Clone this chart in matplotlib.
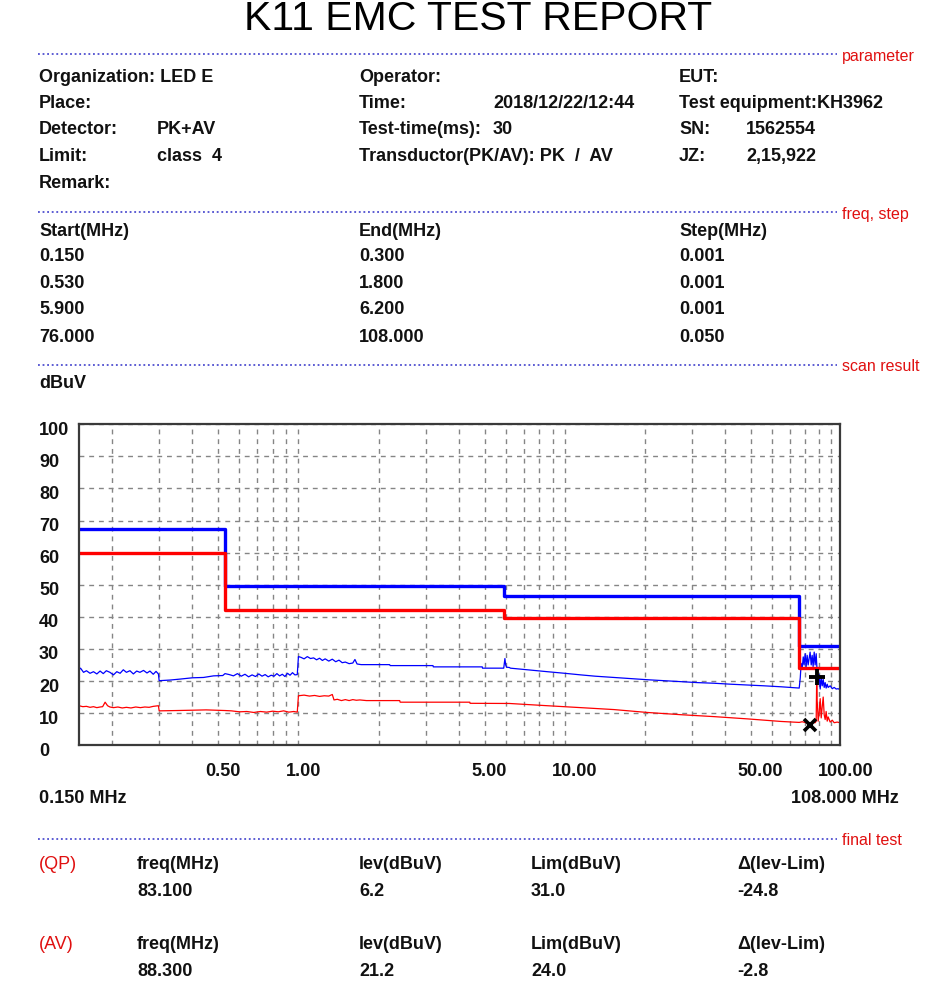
import matplotlib
matplotlib.use("Agg")
import matplotlib.pyplot as plt
from matplotlib.lines import Line2D
from matplotlib.transforms import ScaledTranslation, blended_transform_factory

plt.rcParams['font.family'] = ['Liberation Sans', 'DejaVu Sans']

W, H, DPI = 950, 995, 100

# ---------------- data ----------------
title = "K11 EMC TEST REPORT"

param_rows = [
    [("Organization: LED E", 39), ("Operator:", 359), ("EUT:", 679)],
    [("Place:", 39), ("Time:", 359), ("2018/12/22/12:44", 493), ("Test equipment:KH3962", 679)],
    [("Detector:", 39), ("PK+AV", 157), ("Test-time(ms):", 359), ("30", 493), ("SN:", 679), ("1562554", 746)],
    [("Limit:", 39), ("class  4", 157), ("Transductor(PK/AV): PK  /  AV", 359), ("JZ:", 679), ("2,15,922", 746)],
    [("Remark:", 39)],
]

band_start = ["0.150", "0.530", "5.900", "76.000"]
band_end = ["0.300", "1.800", "6.200", "108.000"]
band_step = ["0.001", "0.001", "0.001", "0.050"]

# limit lines (MHz edges, dBuV)
limit_edges = [0.15, 0.53, 5.9, 76.0, 108.0]
pk_limit = [67.5, 49.5, 46.5, 31.0]
av_limit = [60.0, 42.0, 39.5, 24.0]

# peak trace (blue)
pk_freq = [0.150, 0.152, 0.156, 0.160, 0.165, 0.170, 0.175, 0.180, 0.185, 0.190,
           0.196, 0.202, 0.208, 0.214, 0.220, 0.226, 0.233, 0.240, 0.247, 0.254,
           0.262, 0.270, 0.277, 0.285, 0.292, 0.298,
           0.300, 0.330, 0.360, 0.400, 0.440, 0.480, 0.520, 0.530,
           0.55, 0.57, 0.59, 0.61, 0.63, 0.65, 0.67, 0.69, 0.71, 0.73, 0.75, 0.77,
           0.79, 0.81, 0.83, 0.85, 0.87, 0.89, 0.91, 0.93, 0.95, 0.97, 0.99,
           1.00, 1.02, 1.05, 1.08, 1.11, 1.14, 1.17, 1.20, 1.23, 1.26, 1.30, 1.34,
           1.38, 1.42, 1.46, 1.50, 1.55, 1.60, 1.63, 1.66, 1.72, 1.80,
           2.20, 2.21, 3.20, 3.21, 4.90, 4.91, 5.90, 5.96, 6.00, 6.05, 6.20,
           6.25, 7.0, 8.6, 10.0, 11.5, 13.0, 15.3, 17.5, 20.4, 23.5, 27.3, 31.5,
           36.4, 42.0, 48.5, 56.0, 64.8, 70.0, 75.9,
           76.6, 77.2, 77.9, 78.6, 79.2, 79.9, 80.6, 81.3, 82.0, 82.7, 83.4, 84.2,
           84.9, 85.6, 86.4, 87.1, 87.9, 88.6, 89.4, 90.2, 91.0, 91.8, 92.6, 93.4,
           94.2, 95.0, 95.8, 96.7, 97.5, 99.2, 101.0, 102.7, 104.5, 106.3, 108.0]
pk_level = [23.5, 24.0, 22.7, 23.2, 22.4, 22.9, 22.2, 23.1, 22.3, 23.2,
            22.7, 21.9, 22.9, 22.4, 23.5, 22.7, 23.2, 22.2, 23.1, 22.7,
            23.3, 22.5, 23.1, 22.1, 23.0, 22.2,
            20.1, 20.3, 20.6, 21.0, 21.1, 21.6, 21.7, 22.3,
            22.0, 21.6, 22.3, 21.5, 22.1, 21.3, 21.9, 21.4, 22.2, 21.5, 22.0, 21.3,
            21.8, 21.5, 22.3, 21.6, 22.1, 21.4, 22.4, 21.8, 22.6, 21.9, 22.0,
            27.6, 27.4, 26.9, 27.6, 27.0, 27.2, 26.6, 27.1, 26.4, 26.9, 26.2, 26.8,
            26.0, 26.5, 25.7, 25.9, 25.4, 25.6, 26.7, 25.3, 25.1, 25.1,
            25.1, 24.8, 24.8, 24.4, 24.4, 24.0, 24.0, 27.0, 25.0, 24.3, 24.2,
            24.0, 23.6, 22.9, 22.4, 21.9, 21.5, 21.1, 20.8, 20.4, 20.1, 19.8, 19.5,
            19.3, 19.0, 18.75, 18.5, 18.2, 18.0, 17.8,
            21.0, 25.5, 24.0, 27.5, 25.0, 28.5, 24.5, 28.0, 25.0, 27.0, 29.0, 25.0,
            28.0, 24.5, 29.0, 25.0, 28.5, 23.0, 19.5, 22.0, 17.5, 21.0, 18.5, 20.5,
            18.0, 19.5, 17.8, 19.0, 18.0, 18.5, 17.6, 18.0, 17.5, 17.6, 17.3]

# average trace (red)
av_freq = [0.150, 0.155, 0.160, 0.165, 0.170, 0.175, 0.180, 0.184, 0.188, 0.192,
           0.196, 0.202, 0.210, 0.218, 0.226, 0.235, 0.245, 0.255, 0.265, 0.275,
           0.285, 0.298,
           0.300, 0.35, 0.40, 0.45, 0.53, 0.56, 0.60, 0.64, 0.68, 0.72, 0.76, 0.80,
           0.84, 0.88, 0.92, 0.96, 0.99,
           1.00, 1.05, 1.10, 1.15, 1.20, 1.25, 1.30, 1.34, 1.36, 1.40, 1.45, 1.50,
           1.55, 1.60, 1.65, 1.70, 1.80,
           2.40, 2.41, 4.40, 4.41, 6.20, 6.80, 8.6, 11.5, 15.3, 20.4, 27.3, 36.4,
           48.5, 64.8, 75.9,
           77.9, 80.6, 83.1, 85.6, 87.1, 87.9, 88.3, 88.6, 89.0, 89.4, 90.2, 91.0,
           91.8, 92.6, 93.4, 94.2, 95.0, 95.8, 96.7, 97.5, 99.2, 101.0, 102.7,
           105.4, 108.0]
av_level = [12.3, 12.0, 12.1, 11.8, 12.0, 11.7, 11.9, 12.0, 13.4, 12.3,
            11.9, 11.7, 11.9, 11.6, 11.8, 11.6, 11.9, 11.7, 11.9, 11.8,
            12.1, 12.3,
            10.7, 10.8, 10.9, 11.0, 10.8, 10.7, 10.4, 10.5, 10.2, 10.5, 10.3, 10.6,
            10.4, 10.7, 10.3, 10.5, 10.3,
            15.4, 15.6, 15.3, 15.5, 15.2, 15.4, 15.3, 15.8, 14.1, 14.3, 13.9, 14.2,
            13.9, 14.2, 14.0, 14.1, 13.9,
            13.9, 13.4, 13.4, 13.05, 13.0, 12.8, 12.3, 11.7, 11.1, 10.2, 9.5, 8.9,
            8.2, 7.4, 7.1,
            7.3, 7.0, 6.9, 7.1, 7.0, 7.5, 21.2, 14.0, 11.5, 7.5, 10.2, 14.5,
            8.5, 12.0, 15.0, 9.5, 8.0, 10.5, 7.5, 8.8, 7.2, 7.8, 7.0,
            7.2, 7.0]

y_ticks = [0, 10, 20, 30, 40, 50, 60, 70, 80, 90, 100]
x_label_ticks = [0.5, 1.0, 5.0, 10.0, 50.0, 100.0]
x_label_text = ["0.50", "1.00", "5.00", "10.00", "50.00", "100.00"]
x_grid = [0.2, 0.3, 0.4, 0.6, 0.7, 0.8, 0.9, 2, 3, 4, 6, 7, 8, 9,
          20, 30, 40, 60, 70, 80, 90]

final_header = ["freq(MHz)", "lev(dBuV)", "Lim(dBuV)", "\u0394(lev-Lim)"]
qp_vals = [83.100, 6.2, 31.0, -24.8]
av_vals = [88.300, 21.2, 24.0, -2.8]

# ---------------- figure ----------------
fig = plt.figure(figsize=(W / DPI, H / DPI), dpi=DPI)
fig.patch.set_facecolor('white')

BLUE = '#0000ff'
RED = '#ff0000'
TXT = '#111111'
FS = 13


def txt(x, y, s, **kw):
    kw.setdefault('fontsize', FS)
    kw.setdefault('fontweight', 'bold')
    kw.setdefault('color', TXT)
    fig.text(x / W, 1 - (y + 2) / H, s, va='center', **kw)


def section(y, label):
    fig.add_artist(Line2D([38 / W, 837 / W], [1 - y / H, 1 - y / H],
                          transform=fig.transFigure, color='#3030c8', lw=1.1,
                          linestyle=(0, (1.2, 1.8))))
    fig.text(842 / W, 1 - (y + 1) / H, label, color='#e01010', fontsize=11.5,
             va='center', ha='left')


fig.text(478 / W, 1 - 19 / H, title, fontsize=29.5, ha='center', va='center',
         color='black')

section(55, "parameter")
row_y = [75, 102, 128, 155, 182]
for ry, row in zip(row_y, param_rows):
    for s, x in row:
        txt(x, ry, s)

section(213, "freq, step")
txt(39, 229, "Start(MHz)")
txt(359, 229, "End(MHz)")
txt(679, 229, "Step(MHz)")
for i, ry in enumerate([255, 282, 308, 335]):
    txt(39, ry, band_start[i])
    txt(359, ry, band_end[i])
    txt(679, ry, band_step[i])

section(366, "scan result")
txt(39, 382, "dBuV")

# ---------------- chart ----------------
ax = fig.add_axes([79 / W, 1 - 746.2 / H, 761 / W, 321 / H])
ax.set_xscale('log')
ax.set_xlim(0.15, 108)
ax.set_ylim(0, 100)
ax.set_xticks(x_label_ticks)
ax.set_xticks(x_grid, minor=True)
ax.set_yticks(y_ticks)
ax.tick_params(which='both', length=0, labelbottom=False, labelleft=False)
ax.grid(True, which='both', color='#858585', lw=1.0, linestyle=(0, (3.5, 3.5)))
ax.set_axisbelow(True)
for sp in ax.spines.values():
    sp.set_color('#3a3a3a')
    sp.set_linewidth(1.6)

ax.plot(pk_freq, pk_level, color=BLUE, lw=0.9)
ax.plot(av_freq, av_level, color=RED, lw=0.9)
ax.step(limit_edges, pk_limit + [pk_limit[-1]], where='post', color=BLUE, lw=2.4)
ax.step(limit_edges, av_limit + [av_limit[-1]], where='post', color=RED, lw=2.4)

ax.plot([qp_vals[0]], [qp_vals[1]], marker='x', color='black', ms=9, mew=2.6,
        linestyle='none')
ax.plot([av_vals[0]], [av_vals[1]], marker='+', color='black', ms=11, mew=2.8,
        linestyle='none')

ytr = blended_transform_factory(fig.transFigure, ax.transData) + \
    ScaledTranslation(0, -5 / DPI, fig.dpi_scale_trans)
for v in y_ticks:
    fig.text(39 / W, v, str(v), transform=ytr, ha='left', va='center',
             fontsize=13, fontweight='bold', color=TXT)

xtr = blended_transform_factory(ax.transData, fig.transFigure) + \
    ScaledTranslation(-13 / DPI, 0, fig.dpi_scale_trans)
for f, s in zip(x_label_ticks, x_label_text):
    fig.text(f, 1 - 771 / H, s, transform=xtr, ha='left', va='center',
             fontsize=13, fontweight='bold', color=TXT)

txt(39, 797, "0.150 MHz")
txt(899, 797, "108.000 MHz", ha='right')

# ---------------- final test ----------------
section(840, "final test")
cols = [137, 359, 531, 737]
for tag, vals, y0 in [("(QP)", qp_vals, 863), ("(AV)", av_vals, 943)]:
    txt(39, y0, tag, color='#e01010', fontweight='normal')
    for c, h in zip(cols, final_header):
        txt(c, y0, h)
    txt(cols[0], y0 + 27, f"{vals[0]:.3f}")
    txt(cols[1], y0 + 27, f"{vals[1]:.1f}")
    txt(cols[2], y0 + 27, f"{vals[2]:.1f}")
    txt(cols[3], y0 + 27, f"{vals[3]:.1f}")

fig.savefig("out.png", dpi=DPI, facecolor='white')
